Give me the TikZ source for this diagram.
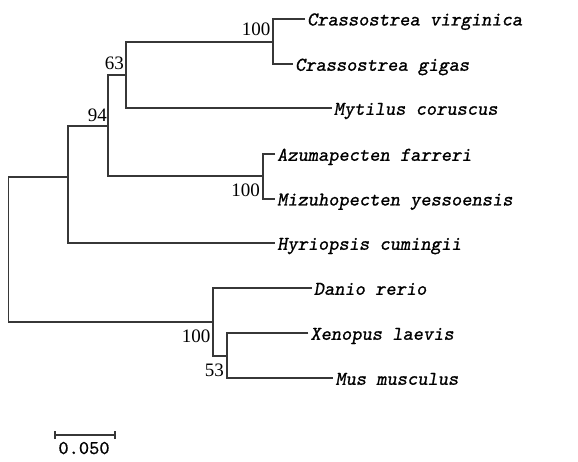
\documentclass[tikz,border=0pt]{standalone}
\usepackage{fontspec}
\setmainfont{Liberation Serif}
\newfontfamily\taxfont{lmmonoslant10-regular}[Extension=.otf,FakeBold=1]
\newfontfamily\scalefont{lmmono10-regular}[Extension=.otf,FakeBold=0.6]
\begin{document}
\begin{tikzpicture}[x=1pt,y=-1pt,
  branch/.style={draw={rgb,255:red,55;green,55;blue,55},line width=1.8pt},
  taxon/.style={anchor=base west,inner sep=0pt,font=\fontsize{19.5}{20}\taxfont},
  boot/.style={anchor=base east,inner sep=0pt,font=\fontsize{19}{20}\selectfont},
  scalelbl/.style={anchor=base,inner sep=0pt,font=\fontsize{19.5}{20}\scalefont}]
\useasboundingbox (0,0) rectangle (578,462);
% internal nodes (on their verticals, at the parent's connection height)
\coordinate (root) at (8.5,249);
\coordinate (A) at (67.7,176.7);
\coordinate (B) at (108.3,126);
\coordinate (C) at (126,75);
\coordinate (D) at (273.3,41.7);
\coordinate (E) at (263.3,176);
\coordinate (F) at (213.3,321.7);
\coordinate (G) at (226.7,355.7);
% leaf tips
\coordinate (cv) at (305,19);
\coordinate (cg) at (293,64.3);
\coordinate (mc) at (331.7,108.3);
\coordinate (af) at (275,154.3);
\coordinate (my) at (275,199);
\coordinate (hc) at (275,243.3);
\coordinate (dr) at (311.7,288.3);
\coordinate (xl) at (308.3,333.3);
\coordinate (mm) at (333.3,378.3);
% taxa
\node[taxon] (tcv) at ([shift={(2,6.5)}]cv) {Crassostrea virginica};
\node[taxon] (tcg) at ([shift={(2,6.5)}]cg) {Crassostrea gigas};
\node[taxon] (tmc) at ([shift={(2,6.5)}]mc) {Mytilus coruscus};
\node[taxon] (taf) at ([shift={(2,6.5)}]af) {Azumapecten farreri};
\node[taxon] (tmy) at ([shift={(2,6.5)}]my) {Mizuhopecten yessoensis};
\node[taxon] (thc) at ([shift={(2,6.5)}]hc) {Hyriopsis cumingii};
\node[taxon] (tdr) at ([shift={(2,6.5)}]dr) {Danio rerio};
\node[taxon] (txl) at ([shift={(2,6.5)}]xl) {Xenopus laevis};
\node[taxon] (tmm) at ([shift={(2,6.5)}]mm) {Mus musculus};
% branches
\draw[branch] (cv) -| (D) |- (cg);
\draw[branch] (D) -| (C) |- (mc);
\draw[branch] (af) -| (E) |- (my);
\draw[branch] (C) -| (B) |- (E);
\draw[branch] (B) -| (A) |- (hc);
\draw[branch] (xl) -| (G) |- (mm);
\draw[branch] (dr) -| (F) |- (G);
\draw[branch] (A) -| (root) |- (F);
% bootstrap values
\node[boot] (bD) at (270.5,35.7) {100};
\node[boot] (bC) at (124,69.4) {63};
\node[boot] (bB) at (107,121.5) {94};
\node[boot] (bE) at (260,196.7) {100};
\node[boot] (bF) at (210.5,342.7) {100};
\node[boot] (bG) at (224,376) {53};
% scale bar
\coordinate (s1) at (55,435);
\coordinate (s2) at (115,435);
\draw[branch,line width=1.4pt] (s1) -- (s2);
\draw[branch,line width=1.4pt] ([yshift=-4]s1) -- ([yshift=4]s1);
\draw[branch,line width=1.4pt] ([yshift=-4]s2) -- ([yshift=4]s2);
\node[scalelbl] (sl) at (84,454) {0.050};
\end{tikzpicture}
\end{document}
